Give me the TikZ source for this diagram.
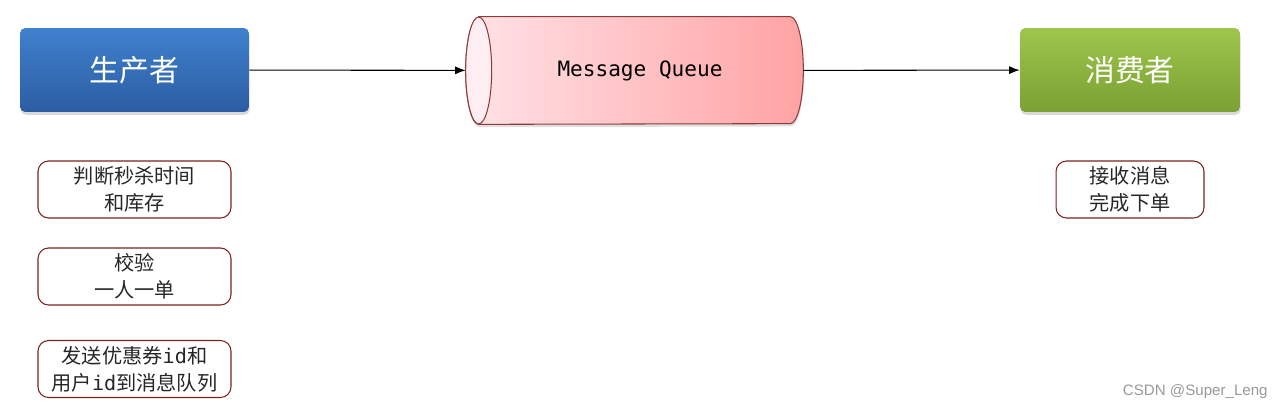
\documentclass[tikz,border=0pt]{standalone}
\usepackage{fontspec}
\setmainfont{Noto Sans CJK SC}
\newfontfamily\monofont{DejaVu Sans Mono}
\newfontfamily\markfont{Liberation Sans}
\usetikzlibrary{arrows.meta,shadows}

\begin{document}
\begin{tikzpicture}[x=0.02cm, y=-0.02cm,
  every node/.style={font=\fontsize{11.5}{15.5}\selectfont, text=black!85},
  rolebox/.style={rounded corners=3pt, text=white, minimum height=1.68cm,
    font=\fontsize{17}{20}\selectfont,
    drop shadow={opacity=0.3, shadow xshift=0.4pt, shadow yshift=-1.6pt}},
  stepbox/.style={draw=boxRed, line width=0.6pt, rounded corners=6pt,
    minimum height=1.14cm, align=center, inner sep=1pt},
  flow/.style={line width=0.6pt, -{Latex[length=2.1mm,width=1.6mm]}}]
  \definecolor{prodTop}{HTML}{4081CE}
  \definecolor{prodBot}{HTML}{2B5DA2}
  \definecolor{consTop}{HTML}{9EC54B}
  \definecolor{consBot}{HTML}{7AA133}
  \definecolor{boxRed}{HTML}{7A2222}
  \definecolor{mqRed}{HTML}{8E3B3B}
  \definecolor{mqLeft}{HTML}{FFE3E7}
  \definecolor{mqRight}{HTML}{FFA3A4}
  \definecolor{mqFace}{HTML}{FFEEF1}
  \useasboundingbox (0,0) rectangle (1284,410);
  % top row: producer -> queue -> consumer
  \node[rolebox, top color=prodTop, bottom color=prodBot, minimum width=4.58cm] (prod) at (134.5,70) {生产者};
  \node[rolebox, top color=consTop, bottom color=consBot, minimum width=4.4cm] (cons) at (1130,70) {消费者};
  \node[minimum width=6.74cm, minimum height=2.14cm, inner sep=0pt] (mq) at (634.5,70.5) {};
  \draw[mqRed, line width=0.6pt, left color=mqLeft, right color=mqRight,
    drop shadow={opacity=0.25, shadow xshift=0.4pt, shadow yshift=-1.6pt}]
    ([xshift=0.26cm]mq.north west) -- ([xshift=-0.26cm]mq.north east)
    arc[start angle=90, end angle=-90, x radius=0.26cm, y radius=1.07cm]
    -- ([xshift=0.26cm]mq.south west)
    arc[start angle=270, end angle=90, x radius=0.26cm, y radius=1.07cm] -- cycle;
  \draw[mqRed, line width=0.6pt, fill=mqFace] ([xshift=0.26cm]mq.west) ellipse[x radius=0.26cm, y radius=1.07cm];
  \node[font=\monofont\fontsize{12}{14}\selectfont, text=black] (mqlabel) at ([xshift=0.11cm]mq.center) {Message Queue};
  \draw[flow] (prod) -- (mq);
  \draw[flow] (mq) -- (cons);
  % producer steps
  \node[stepbox, minimum width=3.86cm] (p1) at (134.5,189.5) {判断秒杀时间\\和库存};
  \node[stepbox, minimum width=3.86cm] (p2) at (134.5,276.5) {校验\\一人一单};
  \node[stepbox, minimum width=3.86cm] (p3) at (134.5,369) {发送优惠券{\monofont id}和\\用户{\monofont id}到消息队列};
  % consumer step
  \node[stepbox, minimum width=2.96cm] (c1) at (1130,189.5) {接收消息\\完成下单};
  \node[font=\markfont\fontsize{8.6}{10}\selectfont, text=black!40, anchor=east, inner sep=0pt] (mark) at (1268,392) {CSDN @Super\_Leng};
\end{tikzpicture}
\end{document}
